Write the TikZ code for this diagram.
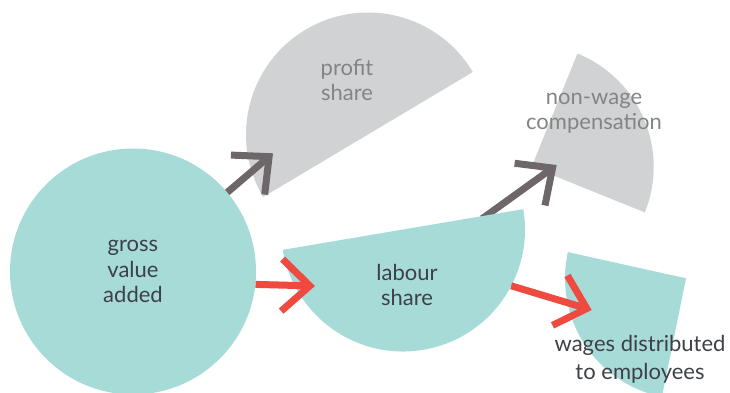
\documentclass[tikz,border=0pt]{standalone}
\usepackage{fontspec}
\setmainfont{Lato}
\usetikzlibrary{arrows.meta, calc, backgrounds}
\definecolor{gvateal}{HTML}{A7DBD8}
\definecolor{sharegrey}{HTML}{D1D2D4}
\definecolor{arrowgrey}{HTML}{6E6769}
\definecolor{arrowred}{HTML}{EE4A3F}
\definecolor{inkdark}{HTML}{3E4047}
\definecolor{inkgrey}{HTML}{838486}
\tikzset{
  part/.style     = {fill=gvateal},
  rest/.style     = {fill=sharegrey},
  darktxt/.style  = {align=center, text=inkdark, inner sep=0pt,
                     font=\fontsize{22}{25.5}\selectfont},
  greytxt/.style  = {align=center, text=inkgrey, inner sep=0pt,
                     font=\fontsize{22}{25.5}\selectfont},
  gar/.style      = {-{Straight Barb[length=28pt,width=52pt]}, line width=7pt, draw=arrowgrey},
  rar/.style      = {-{Straight Barb[length=28pt,width=52pt]}, line width=7pt, draw=arrowred},
}

\begin{document}
\begin{tikzpicture}[x=1pt, y=1pt]
  \useasboundingbox (0,0) rectangle (730,392);

  % centres of the share pieces
  \coordinate (profitc)  at (368,257.5);
  \coordinate (labourc)  at (403,162.5);
  \coordinate (nonwagec) at (531.7,225.3);
  \coordinate (wagesc)   at (686,113.7);

  % grey pieces
  \begin{scope}[on background layer]
    \fill[rest] (profitc) ++(30.8:122) arc[start angle=30.8, end angle=210.8, radius=122] -- cycle;
    \fill[rest] (nonwagec) -- ++(-22:122) arc[start angle=-22, end angle=68, radius=122] -- cycle;
  \end{scope}

  % teal pieces
  \node[circle, part, minimum size=246pt, inner sep=0pt, darktxt] (gva) at (133,120.5)
       {gross\\value\\added};
  \fill[part] (labourc) ++(189.6:122) arc[start angle=189.6, end angle=369.6, radius=122] -- cycle;
  \fill[part] (wagesc) -- ++(167.5:121) arc[start angle=167.5, end angle=258.5, radius=121] -- cycle;

  \node[greytxt] (profit)  at (347,312) {profit\\share};
  \node[greytxt] (nonwage) at (594,279) {non-wage\\compensation};
  \node[darktxt] (labour)  at (407,107) {labour\\share};
  \node[darktxt, font=\fontsize{22}{28}\selectfont] (wages) at (640,33)
       {wages distributed\\to employees};

  % arrow tips
  \coordinate (profitin)  at (273,238.7);
  \coordinate (nonwagein) at (556.7,227);
  \coordinate (labourin)  at (315,106);
  \coordinate (wagesin)   at (591.7,82);

  \begin{scope}[on background layer]
    \draw[gar, shorten <=-6pt] (gva.40) -- (profitin);
    \draw[gar, shorten <=-6pt] ($(labourc)+(9.6:85)$) -- (nonwagein);
  \end{scope}
  \draw[rar] (gva.-6) -- (labourin);
  \draw[rar] ($(labourc)+(-27.5:122)$) -- (wagesin);

\end{tikzpicture}
\end{document}
